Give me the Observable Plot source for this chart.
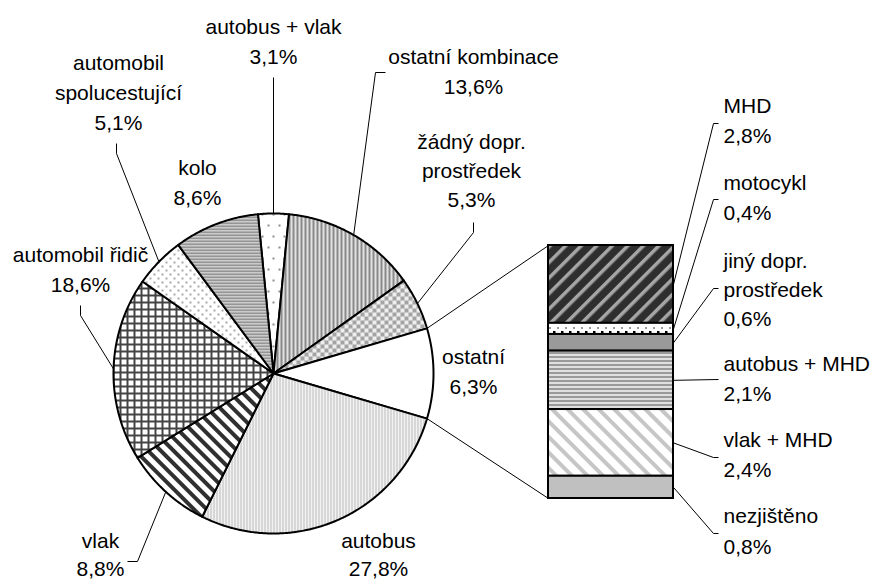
<!DOCTYPE html>
<html>
<head>
<meta charset="utf-8">
<script src="https://cdn.jsdelivr.net/npm/d3@7"></script>
<script src="https://cdn.jsdelivr.net/npm/@observablehq/plot@0.6"></script>
<style>
  html, body { margin: 0; padding: 0; background: #fff; }
  #chart { position: relative; width: 871px; height: 581px; overflow: hidden; background: #fff; }
</style>
</head>
<body>
<svg width="0" height="0" style="position:absolute;left:0;top:0">
  <defs>
    <!-- pie patterns -->
    <pattern id="p-abv" width="11" height="22" patternUnits="userSpaceOnUse">
      <rect width="11" height="22" fill="#fff"/>
      <rect x="3" y="4" width="2" height="2" fill="#8c8c8c"/>
      <rect x="8" y="15" width="2" height="2" fill="#8c8c8c"/>
    </pattern>
    <pattern id="p-ok" width="4" height="4" patternUnits="userSpaceOnUse">
      <rect width="4" height="4" fill="#e2e2e2"/>
      <rect width="2" height="4" fill="#8a8a8a"/>
    </pattern>
    <pattern id="p-zd" width="8" height="8" patternUnits="userSpaceOnUse">
      <rect width="8" height="8" fill="#eeeeee"/>
      <rect width="4" height="4" fill="#a4a4a4"/>
      <rect x="4" y="4" width="4" height="4" fill="#a4a4a4"/>
    </pattern>
    <pattern id="p-ost" width="4" height="4" patternUnits="userSpaceOnUse">
      <rect width="4" height="4" fill="#fff"/>
    </pattern>
    <pattern id="p-ab" width="3" height="3" patternUnits="userSpaceOnUse">
      <rect width="3" height="3" fill="#f2f2f2"/>
      <rect width="1" height="3" fill="#bcbcbc"/>
    </pattern>
    <pattern id="p-vl" width="9" height="9" patternUnits="userSpaceOnUse" patternTransform="rotate(-45)">
      <rect width="9" height="9" fill="#fff"/>
      <rect width="4" height="9" fill="#303030"/>
    </pattern>
    <pattern id="p-ar" width="7" height="7" patternUnits="userSpaceOnUse">
      <rect width="7" height="7" fill="#fff"/>
      <rect width="2" height="7" fill="#444"/>
      <rect width="7" height="2" fill="#444"/>
    </pattern>
    <pattern id="p-as" width="8" height="8" patternUnits="userSpaceOnUse">
      <rect width="8" height="8" fill="#fff"/>
      <rect x="1" y="1" width="2" height="2" fill="#a8a8a8"/>
      <rect x="5" y="5" width="2" height="2" fill="#a8a8a8"/>
    </pattern>
    <pattern id="p-ko" width="4" height="3" patternUnits="userSpaceOnUse">
      <rect width="4" height="3" fill="#e6e6e6"/>
      <rect width="4" height="1.5" fill="#7a7a7a"/>
    </pattern>
    <!-- bar patterns -->
    <pattern id="b-mhd" width="11" height="11" patternUnits="userSpaceOnUse" patternTransform="rotate(45)">
      <rect width="11" height="11" fill="#2e2e2e"/>
      <rect width="3.5" height="11" fill="#a6a6a6"/>
    </pattern>
    <pattern id="b-moto" width="8" height="12" patternUnits="userSpaceOnUse">
      <rect width="8" height="12" fill="#fff"/>
      <rect x="1" y="7" width="2.5" height="2.5" fill="#000"/>
      <rect x="5" y="3" width="2" height="2" fill="#999"/>
    </pattern>
    <pattern id="b-jiny" width="4" height="4" patternUnits="userSpaceOnUse">
      <rect width="4" height="4" fill="#9a9a9a"/>
    </pattern>
    <pattern id="b-abm" width="4" height="4" patternUnits="userSpaceOnUse">
      <rect width="4" height="4" fill="#e0e0e0"/>
      <rect width="4" height="2" fill="#9a9a9a"/>
    </pattern>
    <pattern id="b-vm" width="11" height="11" patternUnits="userSpaceOnUse" patternTransform="rotate(-45)">
      <rect width="11" height="11" fill="#fff"/>
      <rect width="4" height="11" fill="#c6c6c6"/>
    </pattern>
    <pattern id="b-nez" width="4" height="4" patternUnits="userSpaceOnUse">
      <rect width="4" height="4" fill="#c0c0c0"/>
    </pattern>
  </defs>
</svg>
<div id="chart"></div>
<script>
// ---------- DATA ----------
const pieNames = ["autobus + vlak", "ostatní kombinace", "žádný dopr. prostředek", "ostatní",
  "autobus", "vlak", "automobil řidič", "automobil spolucestující", "kolo"];
const pieValues = [3.1, 13.6, 5.3, 9.1, 27.8, 8.8, 18.6, 5.1, 8.6];
const pieLabels = [
  ["autobus + vlak", "3,1%"],
  ["ostatní kombinace", "13,6%"],
  ["žádný dopr.", "prostředek", "5,3%"],
  ["ostatní", "6,3%"],
  ["autobus", "27,8%"],
  ["vlak", "8,8%"],
  ["automobil řidič", "18,6%"],
  ["automobil", "spolucestující", "5,1%"],
  ["kolo", "8,6%"]
];
const barNames = ["MHD", "motocykl", "jiný dopr. prostředek", "autobus + MHD", "vlak + MHD", "nezjištěno"];
const barValues = [2.8, 0.4, 0.6, 2.1, 2.4, 0.8];
const barLabels = [
  ["MHD", "2,8%"],
  ["motocykl", "0,4%"],
  ["jiný dopr.", "prostředek", "0,6%"],
  ["autobus + MHD", "2,1%"],
  ["vlak + MHD", "2,4%"],
  ["nezjištěno", "0,8%"]
];

// ---------- STYLES / LAYOUT ----------
const W = 871, H = 581;
const PIE = {cx: 273, cy: 373, r: 160};
const BAR = {x0: 548, x1: 673, top: 245, bottom: 498};
const piePatterns = ["p-abv", "p-ok", "p-zd", "p-ost", "p-ab", "p-vl", "p-ar", "p-as", "p-ko"].map(id => `url(#${id})`);
const barPatterns = ["b-mhd", "b-moto", "b-jiny", "b-abm", "b-vm", "b-nez"].map(id => `url(#${id})`);
// label first-line centres and line spacing (pie labels centred, bar labels left aligned)
const pieLabelPos = [
  {x: 273, y: 27, lh: 30}, {x: 473, y: 57, lh: 30}, {x: 471, y: 142, lh: 29}, {x: 473, y: 357, lh: 30},
  {x: 378, y: 541, lh: 28}, {x: 100, y: 541, lh: 28}, {x: 80, y: 255, lh: 30}, {x: 118, y: 63, lh: 30}, {x: 197, y: 168, lh: 30}
];
const barLabelPos = [
  {x: 723, y: 106, lh: 30}, {x: 723, y: 183, lh: 30}, {x: 723, y: 261, lh: 29},
  {x: 723, y: 364, lh: 30}, {x: 723, y: 440, lh: 30}, {x: 723, y: 516, lh: 31}
];
// label-side part of leader lines (pie-side end is computed from slice)
const pieLeaderStubs = {
  "autobus + vlak": [[273, 77]],
  "ostatní kombinace": [[385, 72], [375, 72]],
  "žádný dopr. prostředek": [[473, 222], [473, 232]],
  "vlak": [[127, 561], [137, 561]],
  "automobil řidič": [[80, 305], [80, 315]],
  "automobil spolucestující": [[116, 143], [116, 153]]
};
const barLeaderStubs = [
  [[718, 123], [713, 123]],
  [[718, 199], [713, 199]],
  [[718, 288], [713, 288]],
  [[718, 379]],
  [[718, 457], [713, 457]],
  [[718, 533], [713, 533]]
];
const layerStyle = {position: "absolute", left: "0px", top: "0px", background: "transparent", overflow: "visible"};

// ---------- PIE ----------
const pieData = pieNames.map((name, i) => ({name, value: pieValues[i]}));
const half = pieValues[0] / d3.sum(pieValues) * Math.PI;
const arcs = d3.pie().sort(null).value(d => d.value).startAngle(-half).endAngle(2 * Math.PI - half)(pieData);
const slicePts = arcs.flatMap(a => {
  const n = Math.max(2, Math.ceil((a.endAngle - a.startAngle) / (Math.PI / 360)));
  const pts = [{name: a.data.name, x: 0, y: 0}];
  for (let k = 0; k <= n; k++) {
    const t = a.startAngle + (a.endAngle - a.startAngle) * k / n;
    pts.push({name: a.data.name, x: Math.sin(t), y: Math.cos(t)});
  }
  pts.push({name: a.data.name, x: 0, y: 0});
  return pts;
});

const piePlot = Plot.plot({
  width: W, height: H, margin: 0,
  style: layerStyle,
  x: {domain: [-1, 1], range: [PIE.cx - PIE.r, PIE.cx + PIE.r], axis: null},
  y: {domain: [-1, 1], range: [PIE.cy + PIE.r, PIE.cy - PIE.r], axis: null},
  color: {type: "ordinal", domain: pieNames, range: piePatterns},
  marks: [
    Plot.line(slicePts, {x: "x", y: "y", z: "name", fill: "name", stroke: "#000", strokeWidth: 2, strokeLinejoin: "round"})
  ]
});

// ---------- BAR ----------
const barData = barNames.map((name, i) => ({name, value: barValues[i]}));
const barTotal = d3.sum(barValues);
const barPlot = Plot.plot({
  width: W, height: H, margin: 0,
  style: layerStyle,
  x: {type: "band", domain: ["ostatní"], range: [BAR.x0, BAR.x1], padding: 0, round: false, axis: null},
  y: {domain: [0, barTotal], range: [BAR.bottom, BAR.top], axis: null},
  color: {type: "ordinal", domain: barNames, range: barPatterns},
  marks: [
    Plot.barY(barData, {x: () => "ostatní", y: "value", fill: "name", stroke: "#000", strokeWidth: 2, reverse: true})
  ]
});

// ---------- ANNOTATIONS ----------
const edge = t => [PIE.cx + PIE.r * Math.sin(t), PIE.cy - PIE.r * Math.cos(t)];
const leaderPts = [];
arcs.forEach(a => {
  const stub = pieLeaderStubs[a.data.name];
  if (!stub) return;
  const pts = [...stub, edge((a.startAngle + a.endAngle) / 2)];
  pts.forEach(([x, y]) => leaderPts.push({id: "p-" + a.data.name, x, y}));
});
let cum = 0;
const barPix = v => BAR.top + v / barTotal * (BAR.bottom - BAR.top);
barValues.forEach((v, i) => {
  const mid = barPix(cum + v / 2);
  cum += v;
  [...barLeaderStubs[i], [BAR.x1, mid]].forEach(([x, y]) => leaderPts.push({id: "b-" + i, x, y}));
});
const ost = arcs[pieNames.indexOf("ostatní")];
[[edge(ost.startAngle), [BAR.x0, BAR.top]], [edge(ost.endAngle), [BAR.x0, BAR.bottom]]].forEach((seg, j) => {
  seg.forEach(([x, y]) => leaderPts.push({id: "c-" + j, x, y}));
});

const pieText = pieLabels.flatMap((lines, i) => lines.map((t, k) => ({text: t, x: pieLabelPos[i].x, y: pieLabelPos[i].y + k * pieLabelPos[i].lh})));
const barText = barLabels.flatMap((lines, i) => lines.map((t, k) => ({text: t, x: barLabelPos[i].x, y: barLabelPos[i].y + k * barLabelPos[i].lh})));

const annPlot = Plot.plot({
  width: W, height: H, margin: 0,
  style: {...layerStyle, fontFamily: "'Liberation Sans', Arial, sans-serif"},
  x: {domain: [0, W], range: [0, W], axis: null},
  y: {domain: [0, H], range: [0, H], axis: null},
  marks: [
    Plot.line(leaderPts, {x: "x", y: "y", z: "id", stroke: "#000", strokeWidth: 1, strokeLinecap: "butt", strokeLinejoin: "miter"}),
    Plot.text(pieText, {x: "x", y: "y", text: "text", textAnchor: "middle", fontSize: 21, fill: "#000"}),
    Plot.text(barText, {x: "x", y: "y", text: "text", textAnchor: "start", fontSize: 21, fill: "#000"})
  ]
});

const chart = document.getElementById("chart");
chart.appendChild(piePlot);
chart.appendChild(barPlot);
chart.appendChild(annPlot);
</script>
</body>
</html>
